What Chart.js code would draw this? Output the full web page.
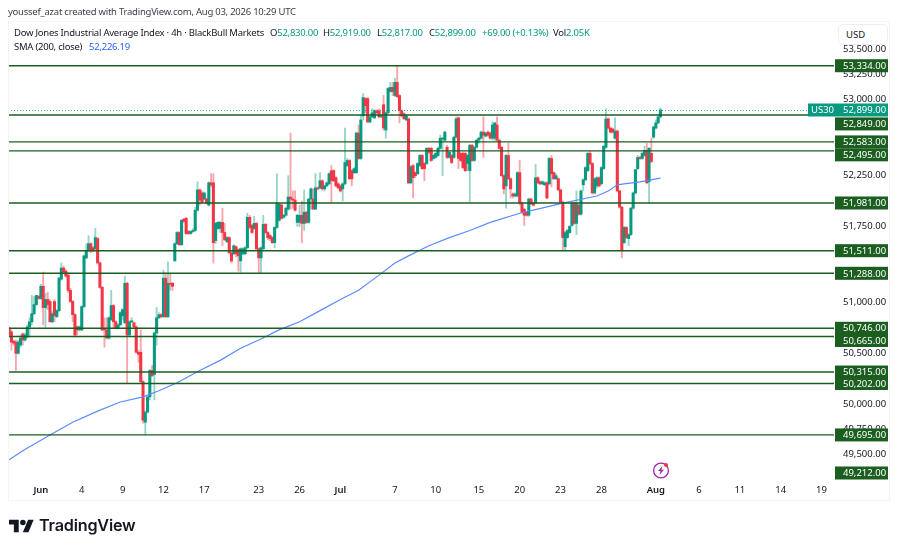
<!DOCTYPE html>
<html>
<head>
<meta charset="utf-8">
<title>Dow Jones Industrial Average Index</title>
<script src="https://cdn.jsdelivr.net/npm/chart.js@4/dist/chart.umd.min.js"></script>
<style>
  html, body { margin: 0; padding: 0; background: #fff; }
  body { width: 900px; height: 549px; position: relative; overflow: hidden; font-family: "Noto Sans", sans-serif; color: #131722; }
  canvas { position: absolute; left: 0; top: 0; }
  .txt { position: absolute; white-space: nowrap; font-size: 9.5px; line-height: 12px; letter-spacing: -0.24px; }
  .frame { position: absolute; left: 8px; top: 21px; width: 882px; height: 480px; border: 1px solid #f0f3fa; box-sizing: border-box; }
  .usd { position: absolute; left: 838px; top: 24px; width: 50px; height: 21px; background: #fff; border: 1px solid #eceef3; border-radius: 5px; box-sizing: border-box; font-size: 9.5px; line-height: 19px; padding-left: 7px; }
  .up { color: #089981; }
  .sma { color: #2962ff; }
  .logo { position: absolute; left: 39px; top: 515px; font: 600 16.2px Inter, sans-serif; color: #131722; letter-spacing: -0.2px; }
</style>
</head>
<body>
<canvas id="chart" width="900" height="549"></canvas>
<div class="frame"></div>
<div class="txt" style="left:8px;top:6px;color:#3a3e4a">youssef_azat created with TradingView.com, Aug 03, 2026 10:29 UTC</div>
<div class="txt" style="left:14px;top:27px">Dow Jones Industrial Average Index · 4h · BlackBull Markets</div>
<div class="txt" style="left:270px;top:27px">O<span class="up">52,830.00</span></div>
<div class="txt" style="left:323px;top:27px">H<span class="up">52,919.00</span></div>
<div class="txt" style="left:377px;top:27px">L<span class="up">52,817.00</span></div>
<div class="txt" style="left:429px;top:27px">C<span class="up">52,899.00</span></div>
<div class="txt up" style="left:482px;top:27px">+69.00 (+0.13%)</div>
<div class="txt" style="left:553px;top:27px">Vol<span class="up">2.05K</span></div>
<div class="txt" style="left:14px;top:41px">SMA (200, close)</div>
<div class="txt sma" style="left:89px;top:41px">52,226.19</div>
<div class="usd">USD</div>
<svg style="position:absolute;left:652px;top:461px" width="18" height="18" viewBox="0 0 18 18">
  <circle cx="9" cy="9.5" r="7.4" fill="none" stroke="#9c27b0" stroke-width="1.3"/>
  <path d="M10.5 5 6 10h2.6L7.4 14 12 8.8H9.4z" fill="#9c27b0"/>
  <circle cx="14" cy="4" r="2" fill="#f23645"/>
</svg>
<svg style="position:absolute;left:9px;top:519px" width="25" height="14" viewBox="0 3.5 36 19">
  <path d="M14 22H7V11H0V4h14v18zM28 22h-8l7.5-18h8L28 22z" fill="#131722"/>
  <circle cx="20" cy="8" r="4" fill="#131722"/>
</svg>
<div class="logo">TradingView</div>
<script>
// candles, 4h bars
const opens = [
  50750,50710,50620,50610,50500,50580,50690,50630,50660,50760,
  50810,50890,50980,51060,51040,51160,50950,51030,51010,50810,
  51010,50860,50920,51230,51340,51310,51270,51120,51010,50880,
  50760,50730,50730,50960,51440,51510,51580,51540,51530,51630,
  51390,51150,50740,50730,50650,50830,50970,50810,50750,50780,
  50870,50800,51190,50680,50810,50800,50760,50510,50510,50220,
  49820,49920,50070,50330,50290,50700,50850,50880,50860,51240,
  50860,51190,51190,51410,51580,51690,51570,51820,51830,51700,
  51680,51700,51710,51910,52110,52080,52020,52020,51960,52180,
  52180,51610,51730,51730,51790,51690,51600,51640,51490,51480,
  51550,51520,51410,51480,51480,51540,51840,51760,51730,51780,
  51530,51440,51530,51770,51690,51660,51640,51590,51740,51810,
  51960,51840,51860,51920,52040,52020,52010,51790,51790,51860,
  51780,51890,51790,52020,52020,51920,52130,52130,52200,52120,
  52150,52170,52300,52300,52230,52170,52150,52120,52170,52350,
  52400,52300,52280,52280,52670,52420,52840,53010,53010,52780,
  52830,52820,52890,52890,52830,52950,52700,52870,53080,53120,
  53040,53170,53040,52890,52860,52800,52810,52180,52350,52280,
  52270,52350,52450,52370,52370,52520,52520,52420,52430,52450,
  52520,52610,52600,52530,52430,52450,52430,52630,52820,52470,
  52470,52470,52370,52300,52550,52400,52530,52600,52620,52680,
  52640,52680,52670,52620,52620,52750,52600,52530,52250,52150,
  52450,52220,52070,52050,52050,52280,51980,51920,51890,51860,
  52020,51980,51980,52230,52190,52170,52160,52180,52170,52420,
  52280,52220,52220,52110,51990,51550,51640,51690,51760,51980,
  51780,51960,51870,52160,52210,52300,52470,52370,52080,52150,
  52230,52170,52320,52530,52810,52720,52710,52620,52690,52100,
  51940,51590,51740,51630,51670,51930,52080,52320,52430,52420,
  52450,52500,52190,52470,52630,52720,52770,52830
];
const highs = [
  50760,50730,50630,50630,50630,50680,50700,50700,50780,50850,
  51070,51060,51070,51070,51180,51300,51090,51100,51030,50910,
  51030,50930,51250,51390,51360,51320,51290,51140,51020,50890,
  50770,50770,50970,51470,51580,51660,51590,51550,51730,51640,
  51400,51160,50850,50850,50860,51120,50980,50820,50790,50910,
  50940,51260,51200,50820,50850,50810,50770,50530,50730,50230,
  49930,50080,50340,50380,50710,50950,50900,50890,51320,51290,
  51400,51280,51200,51590,51700,51700,51820,51830,51840,51710,
  51710,51730,51940,52190,52120,52100,52090,52030,52190,52270,
  52270,51790,51800,51800,51930,51780,51650,51650,51500,51570,
  51560,51530,51540,51540,51550,51880,51860,51770,51850,51790,
  51540,51550,51860,51780,51700,51670,51650,51750,52270,51980,
  51970,51870,51940,52250,52670,52100,52100,51870,51960,52000,
  52110,51900,52030,52130,52120,52270,52140,52280,52210,52160,
  52190,52280,52350,52310,52240,52180,52160,52180,52720,52420,
  52410,52310,52330,52680,52750,52850,53060,53020,53020,52840,
  52910,52900,52900,52910,52850,53040,52880,53120,53170,53170,
  53210,53334,53050,52900,52870,52850,52820,52350,52360,52290,
  52380,52460,52460,52380,52530,52530,52530,52460,52480,52530,
  52650,52630,52690,52550,52490,52460,52640,52830,52830,52480,
  52480,52480,52460,52560,52560,52540,52610,52630,52690,52830,
  52680,52690,52680,52780,52780,52830,52610,52540,52260,52460,
  52570,52230,52080,52080,52290,52400,51990,51930,51900,52030,
  52030,51990,52360,52240,52200,52200,52190,52190,52430,52450,
  52290,52270,52230,52120,52000,51700,51720,51760,51990,51990,
  52100,51970,52110,52220,52340,52480,52490,52380,52230,52240,
  52240,52340,52550,52910,52820,52730,52720,52820,52700,52110,
  51950,51750,51750,51680,51940,52090,52310,52450,52440,52480,
  52540,52570,52530,52620,52740,52800,52840,52919
];
const lows = [
  50670,50530,50580,50330,50490,50560,50580,50620,50650,50660,
  50780,50880,50970,51030,51030,50780,50750,50930,50810,50800,
  50810,50850,50910,51220,51290,51250,51100,51000,50810,50660,
  50680,50720,50720,50950,51430,51500,51490,51500,51520,51380,
  51140,50720,50560,50640,50640,50820,50740,50740,50740,50770,
  50830,50790,50210,50670,50800,50750,50500,50410,50210,49810,
  49695,49910,50040,50270,50040,50580,50840,50850,50850,50850,
  50850,51120,51120,51410,51570,51560,51560,51790,51670,51670,
  51670,51690,51700,51900,51960,51980,52010,51970,51950,52140,
  51390,51580,51720,51690,51560,51610,51590,51480,51390,51470,
  51450,51310,51300,51470,51470,51530,51730,51680,51720,51520,
  51290,51290,51520,51680,51620,51610,51580,51540,51730,51800,
  51820,51830,51850,51910,51920,51930,51900,51750,51750,51590,
  51710,51780,51780,51920,51920,51920,52110,52120,52110,52100,
  52140,52160,51990,52190,52140,52120,52090,52000,52160,52340,
  52210,52150,52270,52270,52410,52410,52800,52870,52770,52770,
  52820,52810,52860,52820,52820,52700,52620,52860,53070,53040,
  53030,53020,52770,52830,52810,52790,52170,52170,52030,52230,
  52260,52340,52310,52200,52360,52470,52390,52410,52420,52440,
  52510,52250,52590,52420,52420,52370,52420,52620,52320,52390,
  52320,52290,52300,51990,52390,52390,52520,52570,52610,52430,
  52630,52640,52610,52600,52600,52590,52510,52240,52070,51930,
  52210,52030,52030,52040,52040,51960,51880,51760,51850,51850,
  51970,51950,51990,52170,52160,52160,52150,52020,52160,52140,
  52210,52210,52100,51980,51510,51510,51630,51680,51750,51770,
  51670,51860,51860,52100,52200,52290,52360,52070,52070,52130,
  52140,52160,52310,52520,52710,52670,52670,52610,52090,51930,
  51440,51580,51630,51560,51660,51920,52070,52310,52410,52410,
  52440,52170,51980,52380,52620,52710,52760,52817
];
const closes = [
  50680,50610,50600,50500,50610,50650,50630,50680,50760,50810,
  50890,50980,51070,51040,51160,50950,51030,50980,50810,50890,
  50870,50920,51240,51340,51300,51260,51120,51010,50880,50680,
  50730,50760,50960,51460,51510,51580,51510,51510,51640,51390,
  51150,50730,50730,50650,50850,50970,50810,50750,50780,50900,
  50930,51190,50680,50810,50820,50760,50510,50490,50220,49840,
  49920,50070,50330,50280,50700,50850,50880,50860,51240,50860,
  51190,51180,51160,51580,51690,51570,51810,51800,51680,51680,
  51700,51710,51910,52110,52010,51990,52080,51980,52180,52160,
  51590,51780,51790,51790,51690,51620,51640,51490,51410,51560,
  51480,51460,51530,51530,51540,51840,51740,51690,51780,51530,
  51440,51540,51770,51690,51640,51630,51590,51740,51980,51970,
  51830,51860,51930,52040,52020,52010,51910,51860,51860,51780,
  51890,51790,52020,52120,51920,52130,52120,52200,52120,52150,
  52180,52270,52200,52200,52150,52130,52100,52170,52380,52400,
  52220,52220,52320,52670,52420,52800,53020,52940,52780,52830,
  52870,52890,52870,52830,52840,52720,52870,53110,53120,53080,
  53170,53030,52890,52840,52810,52840,52180,52340,52230,52250,
  52370,52450,52320,52320,52520,52480,52400,52450,52470,52520,
  52620,52620,52680,52430,52480,52380,52630,52810,52420,52400,
  52330,52300,52450,52550,52400,52530,52600,52620,52680,52650,
  52670,52650,52620,52750,52770,52600,52520,52250,52120,52450,
  52220,52120,52050,52070,52280,51980,51890,51860,51860,52020,
  51970,51960,52230,52180,52170,52190,52180,52030,52420,52270,
  52220,52250,52110,51990,51640,51690,51710,51750,51980,51780,
  51980,51870,52100,52210,52330,52470,52370,52080,52220,52230,
  52150,52330,52540,52810,52720,52680,52680,52690,52100,51940,
  51510,51740,51640,51670,51930,52080,52310,52430,52420,52470,
  52500,52180,52520,52390,52730,52770,52830,52899
];

// SMA 200 read at some candles, the line just joins them
const smaIndex = [0,6,18,28,39,49,59,66,74,84,93,102,110,119,128,137,146,154,163,170,176,185,194,203,212,225,231,244,259,264,268,271,278,287];
const smaValues = [49450,49540,49695,49820,49930,50020,50070,50130,50210,50330,50430,50550,50630,50730,50810,50920,51030,51120,51270,51390,51460,51560,51640,51710,51790,51880,51910,51980,52050,52100,52160,52170,52190,52226];

// horizontal levels drawn on the chart
const levels = [53334,52849,52583,52495,51981,51511,51288,50746,50665,50315,50202,49695];
const lastPrice = 52899;
const extraTag = 49212;

// axis text
const xTickIndex = [14,32,50,68,86,110,128,146,170,188,207,225,243,261,285,304,322,340,358];
const xTickLabels = ['Jun','4','9','12','17','23','26','Jul','7','10','15','20','23','28','Aug','6','11','14','19'];
const yTickValues = [53500,53250,53000,52250,51750,51000,50500,50000,49750,49500];

const slotCount = 364;
const UP = '#089981';
const DOWN = '#f23645';
const TAG_GREEN = '#1b5e20';
const FONT = '"Noto Sans", sans-serif';

// tags get pushed off their level when they would overlap
const tagShift = { 52849: 9, 52495: 4, 50665: 4 };
const tagY = { 49212: 473 };

const money = v => v.toLocaleString('en-US', { minimumFractionDigits: 2, maximumFractionDigits: 2 });

const categories = [];
for (let i = 0; i < slotCount; i++) {
  const t = xTickIndex.indexOf(i);
  categories.push(t >= 0 ? xTickLabels[t] : '');
}

const bodies = opens.map((o, i) => [Math.min(o, closes[i]), Math.max(o, closes[i])]);
const wicks = highs.map((h, i) => [lows[i], h]);
const isUp = opens.map((o, i) => closes[i] >= o);

const smaLine = new Array(opens.length).fill(null);
smaIndex.forEach((idx, i) => { smaLine[idx] = smaValues[i]; });

function priceTag(ctx, y, text, bg) {
  ctx.fillStyle = bg;
  ctx.fillRect(835, y - 6.5, 53, 13);
  ctx.fillStyle = '#fff';
  ctx.textAlign = 'left';
  ctx.textBaseline = 'middle';
  ctx.fillText(text, 843, y + 0.5);
}

const levelPlugin = {
  id: 'levelPlugin',
  afterDraw(chart) {
    const ctx = chart.ctx;
    const y = chart.scales.y;
    const area = chart.chartArea;
    ctx.save();
    ctx.font = '9.5px ' + FONT;

    // last price dotted line
    const lastY = Math.round(y.getPixelForValue(lastPrice)) + 0.5;
    ctx.strokeStyle = 'rgba(8,153,129,0.8)';
    ctx.lineWidth = 1;
    ctx.setLineDash([1, 2]);
    ctx.beginPath();
    ctx.moveTo(area.left, lastY);
    ctx.lineTo(808, lastY);
    ctx.stroke();
    ctx.setLineDash([]);

    ctx.strokeStyle = TAG_GREEN;
    ctx.lineWidth = 1.4;
    levels.forEach(v => {
      const py = y.getPixelForValue(v);
      ctx.beginPath();
      ctx.moveTo(area.left, py);
      ctx.lineTo(area.right, py);
      ctx.stroke();
    });

    levels.concat([extraTag]).forEach(v => {
      const py = tagY[v] || y.getPixelForValue(v) + (tagShift[v] || 0);
      priceTag(ctx, py, money(v), TAG_GREEN);
    });

    // US30 symbol tag and last price
    ctx.fillStyle = UP;
    ctx.fillRect(808, lastY - 7, 27, 13);
    ctx.fillStyle = '#fff';
    ctx.textAlign = 'left';
    ctx.textBaseline = 'middle';
    ctx.fillText('US30', 811, lastY);
    priceTag(ctx, lastY - 0.5, money(lastPrice), UP);
    ctx.restore();
  }
};

new Chart(document.getElementById('chart'), {
  type: 'bar',
  data: {
    labels: categories,
    datasets: [
      {
        type: 'line',
        label: 'SMA (200, close)',
        data: smaLine,
        borderColor: '#5b8cff',
        borderWidth: 1.2,
        pointRadius: 0,
        spanGaps: true,
        tension: 0,
        order: 0
      },
      {
        label: 'Body',
        data: bodies,
        backgroundColor: isUp.map(u => (u ? UP : DOWN)),
        barThickness: 2.4,
        grouped: false,
        order: 1
      },
      {
        label: 'Wick',
        data: wicks,
        backgroundColor: isUp.map(u => (u ? 'rgba(8,153,129,0.42)' : 'rgba(242,54,69,0.45)')),
        barThickness: 1.2,
        grouped: false,
        order: 2
      }
    ]
  },
  options: {
    responsive: false,
    animation: false,
    devicePixelRatio: 1,
    layout: { padding: { left: 8, top: 22, right: 0, bottom: 0 } },
    plugins: { legend: { display: false }, tooltip: { enabled: false } },
    scales: {
      x: {
        grid: { display: false, drawTicks: false },
        border: { display: false },
        afterFit: s => { s.height = 67; },
        ticks: {
          autoSkip: false,
          maxRotation: 0,
          padding: 3,
          color: '#131722',
          font: ctx => ({ family: FONT, size: 9.5, weight: /[A-Za-z]/.test(categories[ctx.index] || '') ? '600' : '400' }),
          callback: (v, i) => categories[i]
        }
      },
      y: {
        position: 'right',
        min: 49231,
        max: 53765,
        grid: { display: false, drawTicks: false },
        border: { display: false },
        afterFit: s => { s.width = 66; },
        afterBuildTicks: s => { s.ticks = yTickValues.map(v => ({ value: v })); },
        ticks: {
          padding: 9,
          color: '#131722',
          font: { family: FONT, size: 9.5 },
          callback: v => money(v)
        }
      }
    }
  },
  plugins: [levelPlugin]
});
</script>
</body>
</html>
